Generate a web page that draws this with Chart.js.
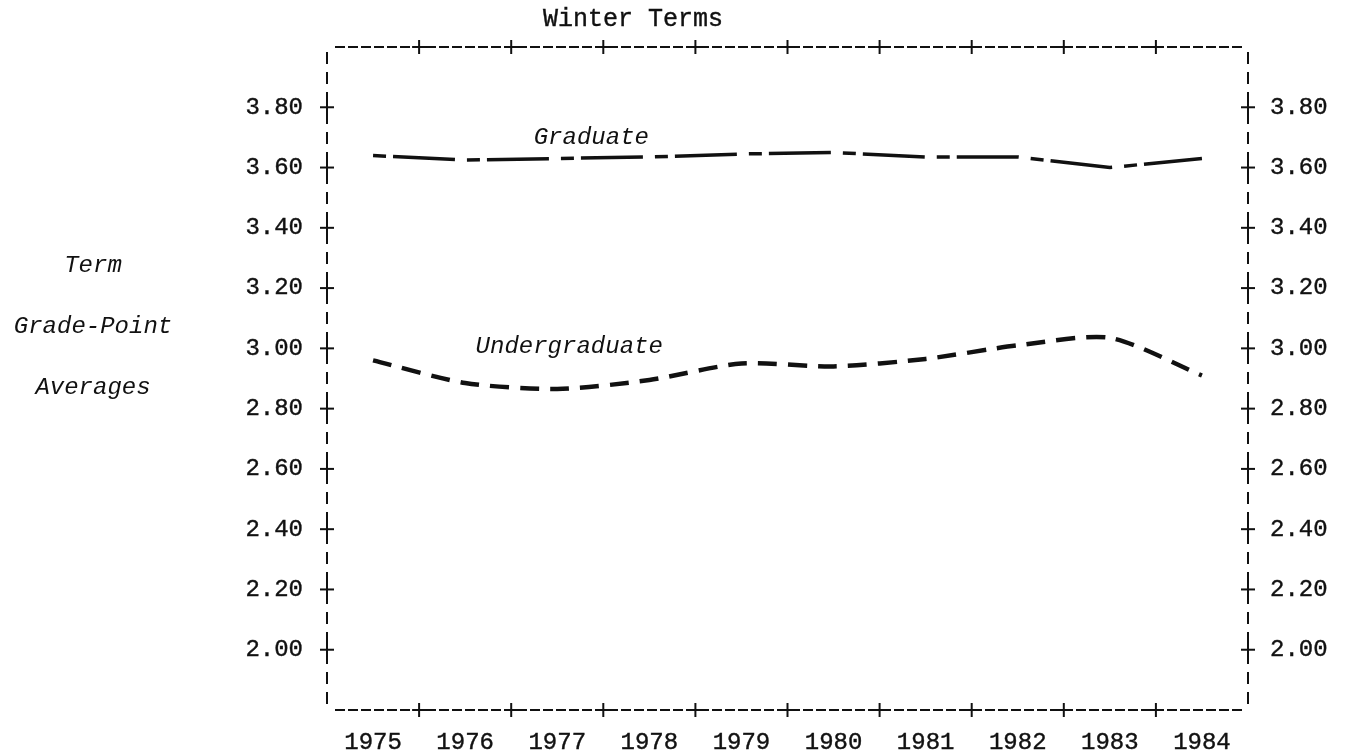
<!DOCTYPE html>
<html>
<head>
<meta charset="utf-8">
<script src="https://cdn.jsdelivr.net/npm/chart.js@4.4.1/dist/chart.umd.min.js"></script>
<style>
html,body{margin:0;padding:0;background:#fff;}
#wrap{width:1348px;height:755px;position:relative;}
</style>
</head>
<body>
<div id="wrap"><canvas id="c" width="1348" height="755"></canvas></div>
<script>
// ---- data ----
const years = ['1975','1976','1977','1978','1979','1980','1981','1982','1983','1984'];
const graduate = [3.64, 3.625, 3.63, 3.635, 3.645, 3.65, 3.635, 3.635, 3.60, 3.63];
const undergraduate = [2.96, 2.885, 2.865, 2.895, 2.95, 2.94, 2.965, 3.01, 3.035, 2.91];
const yTickValues = [2.00, 2.20, 2.40, 2.60, 2.80, 3.00, 3.20, 3.40, 3.60, 3.80];
const yMin = 1.80;
const yMax = 4.00;
const chartTitle = 'Winter Terms';
const axisTitleLines = ['Term', 'Grade-Point', 'Averages'];
const seriesNames = ['Graduate', 'Undergraduate'];

const INK = '#111';
const MONO = '"Liberation Mono", "DejaVu Sans Mono", monospace';
const STROKE = 0.4;

function setTicks(scale){
  scale.ticks = yTickValues.map(v => ({value: v}));
}

const framePlugin = {
  id: 'frame',
  afterDraw(chart){
    const {ctx, chartArea: a, scales} = chart;
    const x = scales.x, y = scales.y;
    ctx.save();
    ctx.strokeStyle = INK;
    ctx.lineWidth = 2;
    const line = (x1,y1,x2,y2) => { ctx.beginPath(); ctx.moveTo(x1,y1); ctx.lineTo(x2,y2); ctx.stroke(); };
    // horizontal dashed borders
    ctx.setLineDash([10,3]);
    line(a.left + 8, a.top, a.right - 6, a.top);
    line(a.left + 8, a.bottom, a.right - 6, a.bottom);
    // vertical dashed borders
    ctx.setLineDash([12,8]);
    line(a.left, a.top + 5, a.left, a.bottom);
    line(a.right, a.top + 5, a.right, a.bottom - 2);
    ctx.setLineDash([]);
    const plus = (px, py) => { line(px-7, py, px+7, py); line(px, py-7, px, py+7); };
    y.ticks.forEach(t => {
      const py = y.getPixelForValue(t.value);
      plus(a.left, py);
      plus(a.right, py);
    });
    for (let i = 1; i < years.length; i++){
      const px = (x.getPixelForTick(i-1) + x.getPixelForTick(i)) / 2;
      plus(px, a.top);
      plus(px, a.bottom);
    }
    // texts
    ctx.fillStyle = INK;
    ctx.font = '25px ' + MONO;
    ctx.textBaseline = 'middle';
    ctx.textAlign = 'left';
    ctx.lineWidth = STROKE;
    ctx.fillText(chartTitle, a.left + 216, 19);
    ctx.strokeText(chartTitle, a.left + 216, 19);
    ctx.font = 'italic 24px ' + MONO;
    ctx.textAlign = 'center';
    const y300 = y.getPixelForValue(3.0);
    axisTitleLines.forEach((s, i) => {
      ctx.fillText(s, 93, y300 - 83 + i * 61);
    });
    // series labels
    ctx.fillText(seriesNames[0], x.getPixelForValue(2.37), y.getPixelForValue(3.70));
    ctx.fillText(seriesNames[1], x.getPixelForValue(2.13), y.getPixelForValue(3.006));
    ctx.restore();
  }
};

const tickFont = { family: MONO, size: 24 };

new Chart(document.getElementById('c'), {
  type: 'line',
  data: {
    labels: years,
    datasets: [
      {
        label: seriesNames[0],
        data: graduate,
        borderColor: INK,
        borderWidth: 3.5,
        borderDash: [13, 7, 62, 12],
        pointRadius: 0,
        tension: 0,
        fill: false,
        yAxisID: 'y'
      },
      {
        label: seriesNames[1],
        data: undergraduate,
        borderColor: INK,
        borderWidth: 4.5,
        borderDash: [19, 11],
        pointRadius: 0,
        tension: 0.25,
        fill: false,
        yAxisID: 'y'
      }
    ]
  },
  options: {
    responsive: false,
    animation: false,
    devicePixelRatio: 1,
    layout: { padding: { top: 47, left: 0, right: 0, bottom: 0 } },
    plugins: { legend: { display: false }, tooltip: { enabled: false }, title: { display: false } },
    scales: {
      x: {
        type: 'category',
        offset: true,
        grid: { display: false, drawTicks: false },
        border: { display: false },
        ticks: { color: INK, font: tickFont, padding: 18, maxRotation: 0, autoSkip: false,
                 textStrokeColor: INK, textStrokeWidth: STROKE },
        afterFit(s){ s.height = 45; }
      },
      y: {
        position: 'left',
        min: yMin, max: yMax,
        afterBuildTicks: setTicks,
        grid: { display: false, drawTicks: false },
        border: { display: false },
        ticks: { color: INK, font: tickFont, padding: 24, callback: v => Number(v).toFixed(2),
                 textStrokeColor: INK, textStrokeWidth: STROKE },
        afterFit(s){ s.width = 327; }
      },
      y2: {
        position: 'right',
        min: yMin, max: yMax,
        afterBuildTicks: setTicks,
        grid: { display: false, drawTicks: false },
        border: { display: false },
        ticks: { color: INK, font: tickFont, padding: 22, callback: v => Number(v).toFixed(2),
                 textStrokeColor: INK, textStrokeWidth: STROKE },
        afterFit(s){ s.width = 100; }
      }
    }
  },
  plugins: [framePlugin]
});
</script>
</body>
</html>
